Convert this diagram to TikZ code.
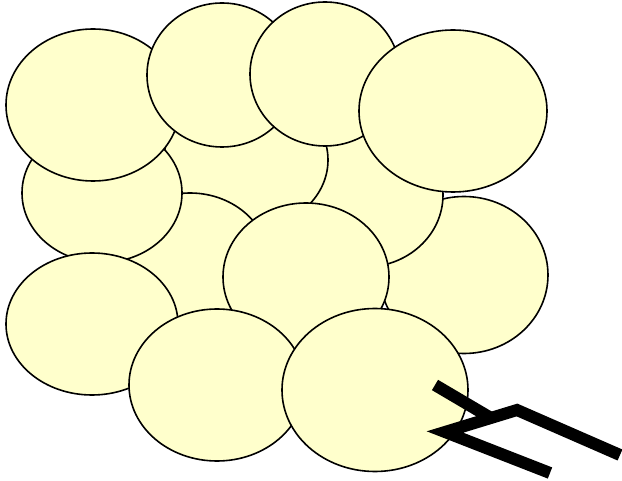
\documentclass[tikz,border=0pt]{standalone}
\usetikzlibrary{shapes.geometric}
\definecolor{cell}{HTML}{FFFFCC}
\tikzset{
  cellshape/.style={ellipse, draw=black, fill=cell, line width=1.6pt, inner sep=0pt},
  wire/.style={line width=12pt, line join=miter, line cap=butt}
}
\newcommand{\cellat}[5]{\node[cellshape, minimum width=#4pt, minimum height=#5pt] (#1) at (#2,#3) {};}
\begin{document}
\begin{tikzpicture}[x=1pt,y=-1pt]
\useasboundingbox (0,0) rectangle (622,481);
\cellat{H}{464}{275}{168}{157}
\cellat{F}{365}{195}{156}{144}
\cellat{B}{246}{160}{164}{140}
\cellat{D}{190}{265}{160}{144}
\cellat{M}{102}{193}{160}{139}
\cellat{A}{93}{105}{174}{152}
\cellat{I}{222}{75}{150}{144}
\cellat{J}{325}{74}{150}{144}
\cellat{G}{453}{111}{188}{162}
\cellat{C}{92}{324}{172}{142}
\cellat{E}{306}{277}{166}{148}
\cellat{K}{217}{385}{176}{152}
\cellat{L}{375}{390}{186}{163}
\coordinate (s1) at (435,385);
\coordinate (s2) at (491,418);
\coordinate (p0) at (550,473);
\coordinate (p1) at (445,432);
\coordinate (p2) at (517,410);
\coordinate (p3) at (620,455);
\draw[wire] (s1) -- (s2);
\draw[wire] (p0) -- (p1) -- (p2) -- (p3);
\end{tikzpicture}
\end{document}
